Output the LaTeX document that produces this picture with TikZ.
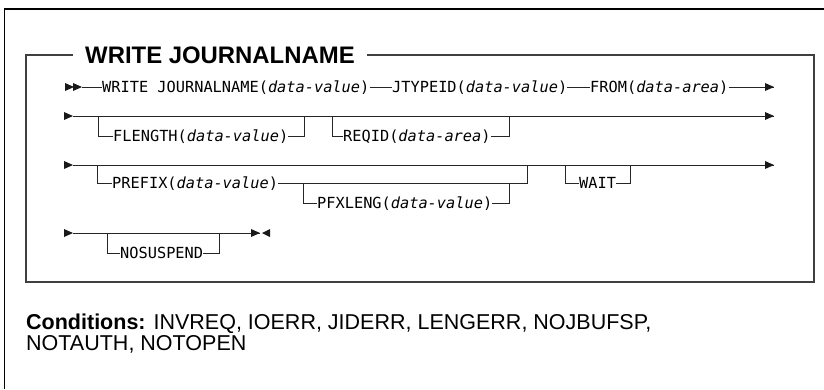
\documentclass[tikz,border=0pt]{standalone}
\usepackage{fontspec}
\setmainfont{Liberation Sans}
\newfontfamily\railfont{DejaVu Sans Mono}
\tikzset{
  rail/.style={line width=0.8pt, draw=black!85},
  word/.style={font=\railfont\fontsize{15.3}{18}\selectfont, inner sep=0pt,
    anchor=west, text height=14pt, text depth=3pt},
  frame/.style={line width=1.4pt, draw=black!75},
  note/.style={font=\fontsize{21.5}{21}\selectfont, inner sep=0pt, anchor=base west},
}
\newcommand{\railtip}[1]{\fill[black!90] (#1) -- ++(-9,4) -- ++(0,-8) -- cycle;}
\newcommand{\railtail}[1]{\fill[black!90] (#1) -- ++(8,4) -- ++(0,-8) -- cycle;}
\begin{document}
\begin{tikzpicture}[x=1pt,y=-1pt]
  \useasboundingbox (0,0) rectangle (824,389);
  % outer frame
  \draw[line width=1.3pt] (4.5,389) -- (4.5,9) -- (824,9);
  % title and box
  \node[font=\bfseries\fontsize{23.9}{26}\selectfont, inner xsep=12pt, inner ysep=0pt,
    anchor=west] (title) at (73,55) {WRITE JOURNALNAME};
  \draw[frame] (title.west) -| (26,282) -| (814,55) -- (title.east);

  % first row
  \coordinate (r1s) at (82,87);
  \coordinate (r1e) at (774,87);
  \node[word] (write) at (102,87) {WRITE JOURNALNAME(\textit{data-value})};
  \node[word] (jtype) at (392,87) {JTYPEID(\textit{data-value})};
  \node[word] (from) at (590,87) {FROM(\textit{data-area})};
  \draw[rail] (r1s) -- (write) (write) -- (jtype) (jtype) -- (from) (from) -- (r1e);
  \railtip{74,87} \railtip{r1s} \railtip{r1e}

  % second row
  \coordinate (r2s) at (73,116);
  \coordinate (r2e) at (774,116);
  \coordinate (fl1) at (98,116);
  \coordinate (fl2) at (304,116);
  \coordinate (rq1) at (332,116);
  \coordinate (rq2) at (509,116);
  \node[word] (flength) at (113,136) {FLENGTH(\textit{data-value})};
  \node[word] (reqid) at (343,136) {REQID(\textit{data-area})};
  \draw[rail] (r2s) -- (r2e);
  \draw[rail] (fl1) |- (flength) -| (fl2);
  \draw[rail] (rq1) |- (reqid) -| (rq2);
  \railtip{r2s} \railtip{r2e}

  % third row
  \coordinate (r3s) at (73,165);
  \coordinate (r3e) at (774,165);
  \coordinate (pf1) at (97,165);
  \coordinate (pf2) at (527,165);
  \coordinate (pl1) at (303,183);
  \coordinate (pl2) at (509,183);
  \coordinate (wt1) at (565,165);
  \coordinate (wt2) at (630,165);
  \node[word] (prefix) at (112,183) {PREFIX(\textit{data-value})};
  \node[word] (pfxleng) at (317,203) {PFXLENG(\textit{data-value})};
  \node[word] (wait) at (579,183) {WAIT};
  \draw[rail] (r3s) -- (r3e);
  \draw[rail] (pf1) |- (prefix) -| (pf2);
  \draw[rail] (pl1) |- (pfxleng) -| (pl2);
  \draw[rail] (wt1) |- (wait) -| (wt2);
  \railtip{r3s} \railtip{r3e}

  % last row
  \coordinate (r4s) at (73,233);
  \coordinate (r4e) at (260,233);
  \coordinate (ns1) at (107,233);
  \coordinate (ns2) at (219,233);
  \node[word] (nosusp) at (120,253) {NOSUSPEND};
  \draw[rail] (r4s) -- (r4e);
  \draw[rail] (ns1) |- (nosusp) -| (ns2);
  \railtip{r4s} \railtip{r4e} \railtail{262,233}

  % conditions
  \node[note] (cond) at (26,329.7) {\textbf{Conditions:} INVREQ, IOERR, JIDERR, LENGERR, NOJBUFSP,};
  \node[note] (condb) at (26,350.5) {NOTAUTH, NOTOPEN};
\end{tikzpicture}
\end{document}
